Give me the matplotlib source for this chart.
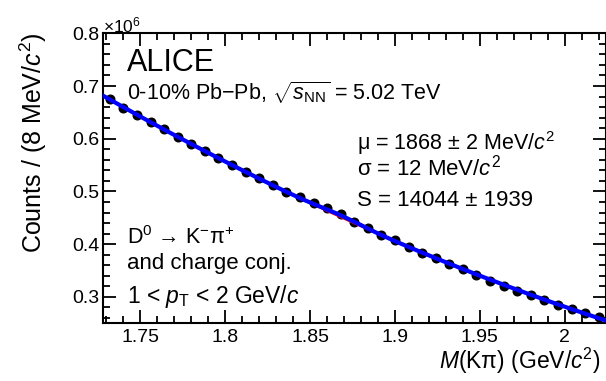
import matplotlib
matplotlib.use("Agg")
import matplotlib.pyplot as plt
import numpy as np
from matplotlib.ticker import MultipleLocator, FuncFormatter

plt.rcParams["font.family"] = ["Liberation Sans", "DejaVu Sans"]
plt.rcParams["mathtext.fontset"] = "custom"
plt.rcParams["mathtext.rm"] = "Liberation Sans"
plt.rcParams["mathtext.it"] = "Liberation Sans:italic"
plt.rcParams["mathtext.bf"] = "Liberation Sans:bold"

# invariant-mass histogram, 8 MeV bins (GeV/c^2)
bin_lo = 1.728
bin_width = 0.008
counts = [675300, 658800, 644900, 631100, 617800, 603700, 589900, 576600, 562700,
          550000, 536100, 524800, 512000, 499300, 489800, 477300, 467800, 457000,
          442400, 429800, 418400, 407600, 394900, 382400, 372900, 363400, 352600,
          341200, 330400, 320900, 311400, 303200, 295100, 285600, 278000, 270400,
          262000]

# fit parameters of the D0 peak
mu = 1.868
sigma = 0.012
signal = 14044

n_bins = len(counts)
edges = bin_lo + bin_width * np.arange(n_bins + 1)
centres = 0.5 * (edges[:-1] + edges[1:])
counts = np.array(counts, dtype=float)


def gauss(x):
    amp = signal * bin_width / (np.sqrt(2 * np.pi) * sigma)
    return amp * np.exp(-0.5 * ((x - mu) / sigma) ** 2)


# background: polynomial fitted to the counts after removing the peak
coef = np.polyfit(centres - mu, counts - gauss(centres), 2)
xf = np.linspace(edges[0], edges[-1], 400)
bkg = np.polyval(coef, xf - mu)
total = bkg + gauss(xf)

fig = plt.figure(figsize=(6.06, 3.81), dpi=100)
ax = fig.add_axes([103 / 606, 57.7 / 381, 502.5 / 606, 290 / 381])

ax.errorbar(centres, counts / 1e6, yerr=np.sqrt(counts) / 1e6, fmt="o",
            color="black", ms=6.2, elinewidth=1, capsize=0, zorder=2)
ax.plot(xf, bkg / 1e6, color="red", lw=1.5, zorder=3)
ax.plot(xf, total / 1e6, color="#0000ff", lw=3, zorder=4)

ax.set_xlim(edges[0], edges[-1])
ax.set_ylim(0.25, 0.8)

ax.xaxis.set_major_locator(MultipleLocator(0.05))
ax.xaxis.set_minor_locator(MultipleLocator(0.01))
ax.yaxis.set_major_locator(MultipleLocator(0.1))
ax.yaxis.set_minor_locator(MultipleLocator(0.02))
ax.xaxis.set_major_formatter(FuncFormatter(lambda v, p: "%g" % round(v, 3)))
ax.yaxis.set_major_formatter(FuncFormatter(lambda v, p: "%.1f" % v))

ax.tick_params(which="both", direction="in", top=True, right=True,
               width=1.3, labelsize=14)
ax.tick_params(which="major", length=9.5)
ax.tick_params(which="minor", length=4.8)
ax.tick_params(axis="x", pad=4)
ax.tick_params(axis="y", pad=2.5)
for sp in ax.spines.values():
    sp.set_linewidth(1.5)

fig.text(103 / 606, 1 - 32 / 381, r"$\times$10$^{6}$", fontsize=12.5,
         ha="left", va="baseline")
fig.text(33 / 606, 1 - 32 / 381, "Counts / (8 MeV/$c^{2}$)", fontsize=18,
         rotation=90, ha="center", va="top")
fig.text(601 / 606, 1 - 376 / 381, "$M$(Kπ) (GeV/$c^{2}$)", fontsize=16.5,
         ha="right", va="bottom")

def label(xp, yp, s, size=16):
    fig.text(xp / 606, 1 - yp / 381, s, fontsize=size, ha="left", va="center")

label(127, 63, "ALICE", size=22)
label(127, 93, r"0-10% Pb$-$Pb, $\sqrt{s_{\rm NN}}$ = 5.02 TeV", size=15.5)
label(357, 143, "μ = 1868 ± 2 MeV/$c^{2}$", size=15.5)
label(357, 168, "σ = 12 MeV/$c^{2}$")
label(357, 200, "S = 14044 ± 1939")
label(127, 238, r"D$^{0}$ → K$^{-}$π$^{+}$", size=15.5)
label(127, 263, "and charge conj.")
label(127, 297, r"1 < $p_{\rm T}$ < 2 GeV/$c$", size=16.5)

fig.savefig("out.png", dpi=100)
